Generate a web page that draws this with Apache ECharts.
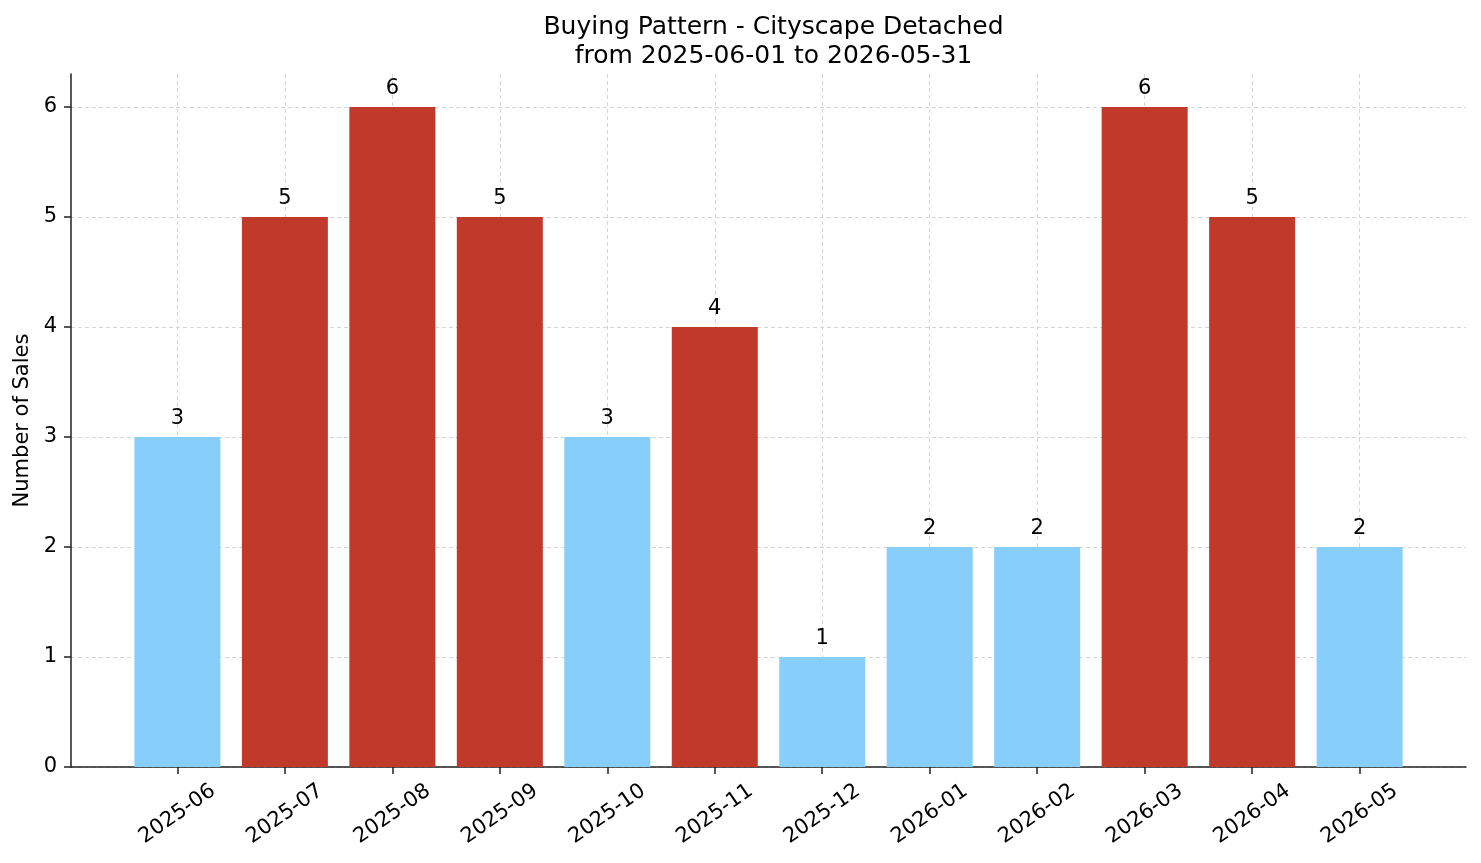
<!DOCTYPE html>
<html>
<head>
<meta charset="utf-8">
<script src="https://cdn.jsdelivr.net/npm/echarts@6/dist/echarts.min.js"></script>
<style>
  html, body { margin: 0; padding: 0; background: #fff; }
  #chart { width: 1481px; height: 863px; }
</style>
</head>
<body>
<div id="chart"></div>
<script>
// months shown on the x axis
var months = ['2025-06', '2025-07', '2025-08', '2025-09', '2025-10', '2025-11',
              '2025-12', '2026-01', '2026-02', '2026-03', '2026-04', '2026-05'];
// sales count per month
var sales = [3, 5, 6, 5, 3, 4, 1, 2, 2, 6, 5, 2];
// y tick labels
var yTicks = [0, 1, 2, 3, 4, 5, 6];

var RED = '#C0392B';
var BLUE = '#87CEFA';
var FONT = 'DejaVu Sans';

var xTicks = months.map(function (m, i) { return i; });

var barData = sales.map(function (v, i) {
    return {
        value: [i, v],
        itemStyle: { color: v > 3 ? RED : BLUE }
    };
});

var myChart = echarts.init(document.getElementById('chart'), null, { renderer: 'canvas' });

var option = {
    animation: false,
    backgroundColor: '#fff',
    textStyle: { fontFamily: FONT },
    title: {
        text: 'Buying Pattern - Cityscape Detached\nfrom 2025-06-01 to 2026-05-31',
        left: 768.5,
        top: 8,
        textAlign: 'center',
        textStyle: {
            fontFamily: FONT,
            fontSize: 25,
            fontWeight: 'normal',
            color: '#000',
            lineHeight: 29
        }
    },
    grid: {
        left: 71,
        right: 15,
        top: 74,
        bottom: 96,
        containLabel: false
    },
    xAxis: {
        type: 'value',
        min: -0.99,
        max: 11.99,
        axisLine: { show: true, lineStyle: { color: '#222', width: 1.5 } },
        axisTick: { show: true, length: 7, customValues: xTicks, lineStyle: { color: '#222', width: 1.5 } },
        axisLabel: {
            customValues: xTicks,
            rotate: 35,
            align: 'center',
            verticalAlign: 'middle',
            margin: 47,
            fontSize: 21,
            color: '#000',
            fontFamily: FONT,
            formatter: function (v) { return months[Math.round(v)] || ''; }
        },
        splitLine: { show: true, lineStyle: { color: '#d6d6d6', type: [4, 3], width: 1 } }
    },
    yAxis: {
        type: 'value',
        min: 0,
        max: 6.3,
        name: 'Number of Sales',
        nameLocation: 'middle',
        nameGap: 38,
        nameTextStyle: { fontSize: 21, color: '#000', fontFamily: FONT },
        axisLine: { show: true, onZero: false, lineStyle: { color: '#222', width: 1.5 } },
        axisTick: { show: true, length: 7, customValues: yTicks, lineStyle: { color: '#222', width: 1.5 } },
        axisLabel: {
            customValues: yTicks,
            margin: 14,
            fontSize: 21,
            color: '#000',
            fontFamily: FONT
        },
        splitLine: { show: true, lineStyle: { color: '#d6d6d6', type: [4, 3], width: 1 } }
    },
    series: [{
        type: 'bar',
        barWidth: 86,
        data: barData,
        label: {
            show: true,
            position: 'top',
            distance: 8,
            fontSize: 21,
            color: '#000',
            fontFamily: FONT,
            formatter: function (p) { return p.value[1]; }
        }
    }]
};

myChart.setOption(option);
</script>
</body>
</html>
